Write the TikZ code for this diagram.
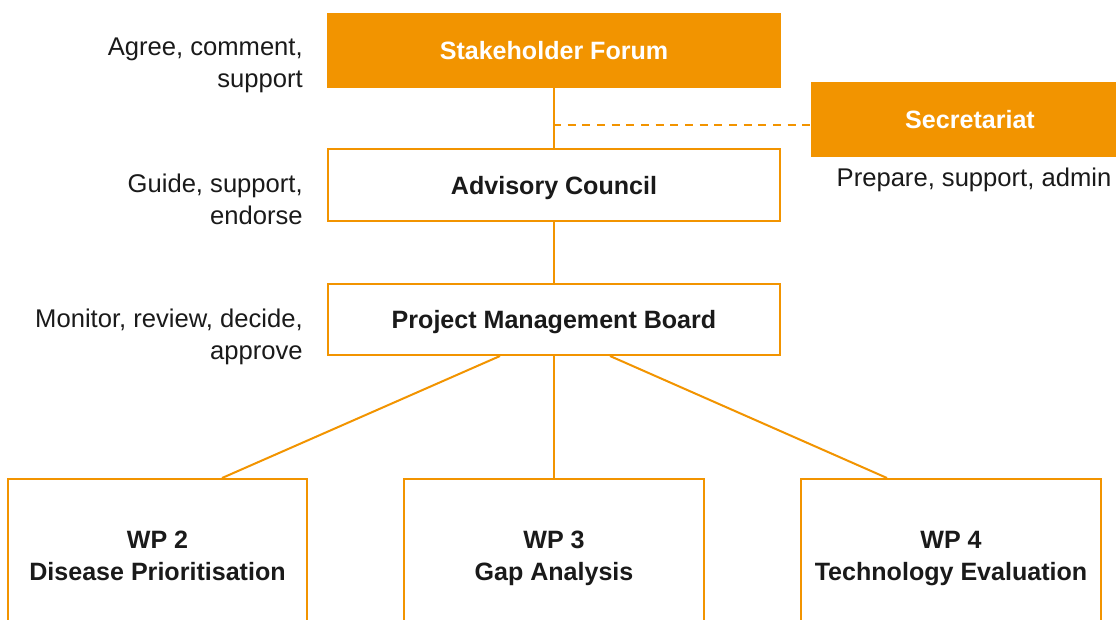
\documentclass[tikz,border=0pt]{standalone}
\usepackage{fontspec}
\setmainfont{Liberation Sans}
\definecolor{orgA}{HTML}{F29400}
\definecolor{txtA}{HTML}{1A1A1A}
\tikzset{
  filledbox/.style={fill=orgA, draw=none, text=white, font=\bfseries\fontsize{18.8pt}{24pt}\selectfont, inner sep=0pt, text depth=0pt},
  outlinebox/.style={draw=orgA, line width=1.5pt, fill=white, text=txtA, font=\bfseries\fontsize{18.8pt}{24pt}\selectfont, inner sep=0pt, align=center, text depth=0pt},
  sidelabel/.style={text=txtA, font=\fontsize{19.2pt}{24pt}\selectfont, align=right, inner sep=0pt},
  conn/.style={draw=orgA, line width=1.5pt},
  dashconn/.style={draw=orgA, line width=1.5pt, dash pattern=on 6pt off 5pt}
}
\begin{document}
\begin{tikzpicture}[x=0.75pt,y=-0.75pt]
\clip (0,0) rectangle (1116,619);
\fill[white] (0,0) rectangle (1116,619);
% boxes
\node[filledbox, minimum width=340.5pt, minimum height=56.25pt] (sf) at (554,50.5) {Stakeholder Forum};
\node[filledbox, minimum width=238.5pt, minimum height=56.25pt] (sec) at (970,119.5) {Secretariat};
\node[outlinebox, minimum width=339pt, minimum height=54pt] (ac) at (554,185) {Advisory Council};
\node[outlinebox, minimum width=339pt, minimum height=53.25pt] (pmb) at (554,319.5) {Project Management Board};
\node[outlinebox, minimum width=224.25pt, minimum height=114.75pt] (wp2) at (157.5,555.5) {WP 2\\Disease Prioritisation};
\node[outlinebox, minimum width=225pt, minimum height=114.75pt] (wp3) at (554,555.5) {WP 3\\Gap Analysis};
\node[outlinebox, minimum width=225pt, minimum height=114.75pt] (wp4) at (951,555.5) {WP 4\\Technology Evaluation};
% side labels
\node[sidelabel, anchor=east] (l1) at (303,65) {Agree, comment,\\support};
\node[sidelabel, anchor=east] (l2) at (303,199.5) {Guide, support,\\endorse};
\node[sidelabel, anchor=east] (l3) at (303,337) {Monitor, review, decide,\\approve};
\node[sidelabel, anchor=center] (l4) at (974,180) {Prepare, support, admin};
% connectors
\draw[conn] (sf.south) -- (ac.north);
\draw[conn] (ac.south) -- (pmb.north);
\draw[conn] (pmb.south) -- (wp3.north);
\draw[conn] ([xshift=-40.5pt]pmb.south) -- ([xshift=48.4pt]wp2.north);
\draw[conn] ([xshift=42pt]pmb.south) -- ([xshift=-48pt]wp4.north);
\coordinate (dj) at (553,125);
\draw[dashconn] (dj) -- (dj -| sec.west);
\end{tikzpicture}
\end{document}
